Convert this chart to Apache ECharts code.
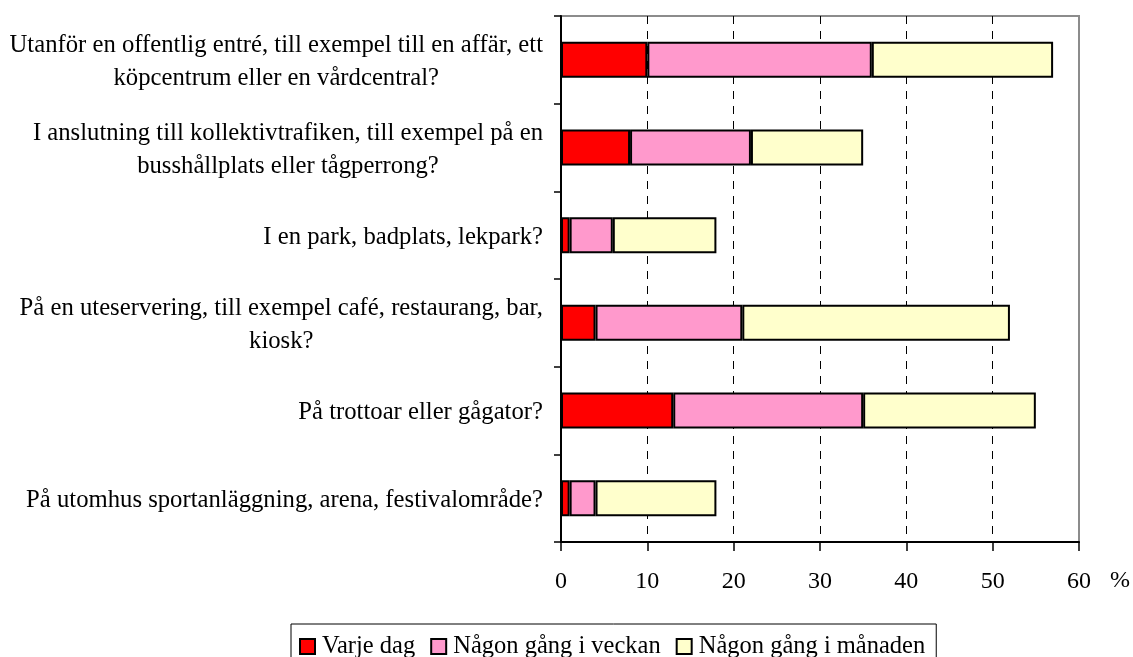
<!DOCTYPE html>
<html>
<head>
<meta charset="utf-8">
<script src="https://cdn.jsdelivr.net/npm/echarts@6/dist/echarts.min.js"></script>
<style>
  html, body { margin: 0; padding: 0; background: #fff; }
  #chart { width: 1133px; height: 657px; }
</style>
</head>
<body>
<div id="chart"></div>
<script>
  // frågor (kategorier), uppifrån och ned
  const fragor = [
    'Utanför en offentlig entré, till exempel till en affär, ett\nköpcentrum eller en vårdcentral?',
    'I anslutning till kollektivtrafiken, till exempel på en\nbusshållplats eller tågperrong?',
    'I en park, badplats, lekpark?',
    'På en uteservering, till exempel café, restaurang, bar,\nkiosk?',
    'På trottoar eller gågator?',
    'På utomhus sportanläggning, arena, festivalområde?'
  ];

  // andelar i procent, staplade
  const varjeDag = [10, 8, 1, 4, 13, 1];
  const veckan = [26, 14, 5, 17, 22, 3];
  const manaden = [21, 13, 12, 31, 20, 14];

  const serieNamn = ['Varje dag', 'Någon gång i veckan', 'Någon gång i månaden'];
  const farger = ['#ff0000', '#ff99cc', '#ffffcc'];

  const FONT = '"Liberation Serif", "Times New Roman", serif';

  const chart = echarts.init(document.getElementById('chart'));

  function serie(i, data){
    return {
      name: serieNamn[i],
      type: 'bar',
      stack: 'total',
      barWidth: 36,
      data: data,
      itemStyle: { color: farger[i], borderColor: '#000', borderWidth: 2 },
      emphasis: { disabled: true }
    };
  }

  chart.setOption({
    animation: false,
    textStyle: { fontFamily: FONT, color: '#000' },
    grid: {
      left: 561, right: 54, top: 16, bottom: 115,
      show: true, borderColor: '#8c8c8c', borderWidth: 2, backgroundColor: 'transparent'
    },
    legend: {
      left: 291, top: 624,
      padding: [10, 11, 20, 8],
      itemWidth: 15, itemHeight: 15, itemGap: 15,
      icon: 'rect',
      borderColor: '#000', borderWidth: 1,
      itemStyle: { borderColor: '#000', borderWidth: 2 },
      textStyle: { fontFamily: FONT, fontSize: 24.5, color: '#000', padding: [0, 0, 0, 2] },
      data: serieNamn
    },
    xAxis: {
      type: 'value', min: 0, max: 60, interval: 10,
      axisLine: { show: true, lineStyle: { color: '#000', width: 2 } },
      axisTick: { show: true, length: 9, lineStyle: { color: '#000', width: 1.5 } },
      axisLabel: { fontFamily: FONT, fontSize: 24, color: '#000', margin: 28 },
      splitLine: { show: true, showMinLine: false, showMaxLine: false, lineStyle: { color: '#000', width: 1, type: [8, 7] } }
    },
    yAxis: {
      type: 'category', inverse: true, data: fragor,
      axisLine: { show: true, lineStyle: { color: '#000', width: 2 } },
      axisTick: { show: true, length: 7, lineStyle: { color: '#000', width: 1.5 } },
      axisLabel: {
        margin: 18,
        padding: [5, 0, 0, 0],
        fontFamily: FONT, fontSize: 24.7, color: '#000', lineHeight: 33,
        formatter: v => v.split('\n').map(r => '{c|' + r + '}').join('\n'),
        rich: { c: { align: 'center', fontFamily: FONT, fontSize: 24.7, lineHeight: 33, color: '#000' } }
      }
    },
    graphic: [{
      type: 'text', left: 1110, top: 569,
      style: { text: '%', font: '24px ' + FONT, fill: '#000' }
    }],
    series: [serie(0, varjeDag), serie(1, veckan), serie(2, manaden)]
  });
</script>
</body>
</html>
